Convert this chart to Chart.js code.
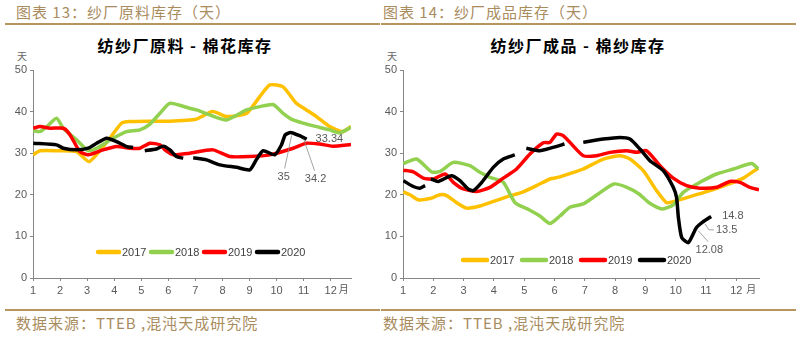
<!DOCTYPE html>
<html>
<head>
<meta charset="utf-8">
<script src="https://cdn.jsdelivr.net/npm/chart.js@4/dist/chart.umd.min.js"></script>
<style>
  html, body { margin: 0; padding: 0; background: #fff; }
  body { position: relative; width: 803px; height: 337px; overflow: hidden;
         font-family: "Noto Sans CJK SC", "Noto Sans", sans-serif; }
  .hd { position: absolute; top: 3px; font-size: 15px; line-height: 18px; color: #A98C5E; letter-spacing: 1px; white-space: nowrap; }
  .rule { position: absolute; height: 2px; background: #B7955F; }
  .ttl { position: absolute; top: 34px; font-size: 16px; line-height: 22px; font-weight: bold; color: #000; text-align: center; white-space: nowrap; letter-spacing: 1.5px; }
  .unit { position: absolute; top: 50px; font-size: 10px; line-height: 12px; color: #666; }
  .src { position: absolute; top: 314px; font-size: 15px; line-height: 18px; color: #A98C5E; letter-spacing: 1px; white-space: nowrap; }
  canvas { position: absolute; top: 60px; }
</style>
</head>
<body>
  <div class="hd" style="left:16px">图表 13：纱厂原料库存（天）</div>
  <div class="hd" style="left:383px">图表 14：纱厂成品库存（天）</div>
  <div class="rule" style="left:5px;width:375px;top:23px"></div>
  <div class="rule" style="left:381px;width:415px;top:23px"></div>

  <div class="ttl" style="left:0;width:370px">纺纱厂原料 - 棉花库存</div>
  <div class="ttl" style="left:370px;width:416px">纺纱厂成品 - 棉纱库存</div>
  <div class="unit" style="left:17px">天</div>
  <div class="unit" style="left:387px">天</div>

  <canvas id="cotton" width="370" height="245" style="left:0"></canvas>
  <canvas id="yarn" width="410" height="245" style="left:370px"></canvas>

  <div class="rule" style="left:5px;width:375px;top:309px"></div>
  <div class="rule" style="left:381px;width:415px;top:309px"></div>
  <div class="src" style="left:16px">数据来源：TTEB ,混沌天成研究院</div>
  <div class="src" style="left:383px">数据来源：TTEB ,混沌天成研究院</div>

<script>
// Series names, colours and month ticks
const years = ['2017', '2018', '2019', '2020'];
const lineColors = ['#FFC000', '#92D050', '#FF0000', '#000000'];
const monthTicks = [1, 2, 3, 4, 5, 6, 7, 8, 9, 10, 11, 12];

// 纺纱厂原料 - 棉花库存 (days), position within the year in months
const cottonMonths2017 = [1.00, 1.26, 1.92, 2.61, 3.08, 3.84, 4.27, 4.58, 5.32, 6.06, 6.79, 7.04, 7.64, 8.15, 8.89, 9.38, 9.75, 10.23, 10.73, 11.10, 11.47, 11.96, 12.44, 12.75];
const cottonDays2017   = [29.6, 30.6, 30.6, 30.4, 28.0, 33.6, 37.2, 37.6, 37.7, 37.7, 38.0, 38.2, 40.0, 38.8, 39.6, 43.6, 46.4, 46.0, 42.0, 40.4, 38.8, 36.4, 35.2, 36.4];

const cottonMonths2018 = [1.01, 1.26, 1.51, 1.87, 2.12, 2.61, 3.04, 3.35, 3.96, 4.46, 4.95, 5.32, 5.69, 6.06, 6.79, 7.04, 7.53, 8.15, 8.89, 9.38, 9.87, 10.24, 10.61, 11.22, 11.96, 12.33, 12.75];
const cottonDays2018   = [35.4, 35.2, 36.4, 38.4, 36.0, 33.2, 30.6, 31.2, 33.6, 35.2, 35.6, 37.0, 39.6, 42.0, 40.8, 40.4, 39.2, 38.0, 40.4, 41.2, 41.7, 39.6, 38.0, 36.8, 35.6, 34.9, 36.2];

const cottonMonths2019 = [1.01, 1.26, 1.63, 2.12, 2.37, 2.73, 3.04, 3.59, 4.09, 4.58, 4.95, 5.32, 5.69, 5.91, 6.18, 6.79, 7.65, 8.27, 9.01, 9.75, 10.61, 11.10, 11.59, 12.08, 12.75];
const cottonDays2019   = [36.0, 36.4, 36.0, 36.0, 34.4, 30.4, 29.6, 30.8, 31.6, 31.2, 31.2, 32.4, 32.0, 30.6, 29.6, 30.0, 30.8, 29.2, 29.2, 29.6, 31.2, 32.4, 32.2, 31.7, 32.1];

const cottonMonths2020 = [1.01, 1.87, 2.12, 2.61, 3.04, 3.35, 3.72, 4.09, 4.46, 4.70, 4.90, 5.13, 5.56, 5.81, 6.06, 6.30, 6.55, 6.72, 6.92, 7.41, 7.90, 8.52, 9.01, 9.25, 9.50, 9.93, 10.18, 10.32, 10.52, 10.85, 11.11];
const cottonDays2020   = [32.4, 32.0, 31.2, 30.8, 31.2, 32.4, 33.6, 32.8, 31.6, 31.4, null, 30.6, 31.0, 31.7, 30.8, 29.2, 28.8, null, 28.9, 28.4, 27.2, 26.6, 26.0, 28.4, 30.6, 29.6, 32.0, 34.4, 35, 34.2, 33.34];

// 纺纱厂成品 - 棉纱库存 (days)
const yarnMonths2017 = [1.01, 1.23, 1.50, 1.89, 2.22, 2.44, 2.77, 3.10, 3.54, 3.98, 4.42, 4.97, 5.41, 5.85, 6.18, 6.51, 6.95, 7.61, 8.16, 8.49, 8.93, 9.37, 9.70, 10.03, 10.58, 11.13, 11.68, 12.23, 12.72];
const yarnDays2017   = [20.7, 20.0, 18.8, 19.1, 20.0, 19.8, 18.1, 16.8, 17.3, 18.4, 19.5, 20.7, 22.2, 23.8, 24.3, 25.1, 26.2, 28.6, 29.4, 28.6, 25.8, 21.0, 18.1, 18.6, 19.8, 21.0, 22.4, 24.0, 26.4];

const yarnMonths2018 = [1.01, 1.45, 1.95, 2.22, 2.66, 3.21, 3.54, 3.87, 4.31, 4.70, 5.19, 5.52, 5.85, 6.18, 6.51, 6.95, 7.44, 7.96, 8.39, 8.79, 9.12, 9.56, 9.92, 10.25, 10.80, 11.35, 11.90, 12.51, 12.73];
const yarnDays2018   = [27.5, 28.6, 25.5, 25.6, 27.8, 27.0, 25.4, 24.2, 23.0, 18.1, 16.3, 14.9, 13.1, 14.9, 17.0, 17.8, 20.2, 22.6, 21.8, 20.2, 18.1, 16.6, 17.6, 20.6, 23.0, 25.0, 26.2, 27.5, 26.2];

const yarnMonths2019 = [1.01, 1.34, 1.67, 2.00, 2.39, 2.66, 2.99, 3.43, 3.87, 4.31, 4.75, 5.19, 5.63, 5.85, 6.07, 6.29, 6.51, 6.95, 7.39, 7.83, 8.38, 8.71, 9.04, 9.48, 9.92, 10.36, 10.80, 11.35, 11.79, 12.12, 12.45, 12.75];
const yarnDays2019   = [25.9, 25.5, 24.0, 23.8, 25.0, 23.0, 21.4, 20.8, 21.8, 24.0, 26.2, 29.8, 32.5, 32.6, 34.6, 34.2, 32.6, 29.4, 29.4, 30.2, 30.6, 30.2, 30.6, 27.0, 24.0, 22.2, 21.6, 21.8, 23.2, 23.0, 21.8, 21.2];

const yarnMonths2020 = [1.01, 1.34, 1.56, 1.73, 1.82, 1.92, 2.16, 2.60, 2.88, 3.15, 3.32, 3.60, 3.98, 4.31, 4.69, 4.88, 5.07, 5.51, 5.95, 6.33, 6.62, 6.95, 7.61, 8.16, 8.49, 8.82, 9.15, 9.59, 9.92, 10.03, 10.09, 10.20, 10.42, 10.68, 10.90, 11.17];
const yarnDays2020   = [23.4, 22.0, 21.6, 22.2, null, 23.8, 23.2, 24.6, 23.4, 21.4, 21.0, 23.0, 26.6, 28.6, 29.6, null, 31.2, 30.6, 31.4, 32.2, null, 32.6, 33.4, 33.8, 33.4, 31.0, 28.2, 25.8, 21.8, 19.3, 14.5, 9.7, 8.5, 12.08, 13.5, 14.8];

Chart.defaults.font.family = "'Liberation Sans', Arial, sans-serif";
Chart.defaults.font.size = 11;
Chart.defaults.color = '#595959';

const AXIS = '#868686';

function toPoints(months, days) {
  return months.map((m, i) => ({ x: m, y: days[i] }));
}

// Legend inside the plot, month suffix and value call-outs on the 2020 line
const overlay = {
  id: 'overlay',
  afterDatasetsDraw(chart, args, o) {
    const ctx = chart.ctx;
    const area = chart.chartArea;
    const xs = chart.scales.x;
    ctx.save();

    // legend
    ctx.font = "11px 'Liberation Sans', Arial, sans-serif";
    ctx.textBaseline = 'middle';
    ctx.textAlign = 'left';
    years.forEach((y, i) => {
      const x0 = area.left + o.legendX + i * o.legendStep;
      const yy = area.top + o.legendY;
      ctx.strokeStyle = lineColors[i];
      ctx.lineWidth = 4.5;
      ctx.lineCap = 'round';
      ctx.beginPath();
      ctx.moveTo(x0, yy);
      ctx.lineTo(x0 + o.legendLen, yy);
      ctx.stroke();
      ctx.fillStyle = '#404040';
      ctx.fillText(y, x0 + o.legendLen + 3, yy + 0.5);
    });

    // 月 after the last month label
    ctx.fillStyle = '#595959';
    ctx.font = "10px 'Noto Sans CJK SC', sans-serif";
    ctx.fillText('月', xs.getPixelForValue(12) + o.monthDx, xs.top + 11);

    // call-outs
    const meta = chart.getDatasetMeta(3);
    const vals = chart.data.datasets[3].data;
    ctx.font = "11px 'Liberation Sans', Arial, sans-serif";
    ctx.lineWidth = 0.8;
    ctx.strokeStyle = '#8c8c8c';
    ctx.lineCap = 'butt';
    o.callouts.forEach(c => {
      const idx = vals.length + c.from;
      const pt = meta.data[idx];
      const px = pt.x, py = pt.y;
      if (c.leader) {
        ctx.beginPath();
        c.leader.forEach((p, k) => {
          if (k === 0) ctx.moveTo(px + p[0], py + p[1]);
          else ctx.lineTo(px + p[0], py + p[1]);
        });
        ctx.stroke();
      }
      ctx.fillStyle = '#595959';
      ctx.textAlign = c.align;
      ctx.fillText(String(vals[idx].y), px + c.dx, py + c.dy);
    });
    ctx.restore();
  }
};

function buildChart(id, monthsList, daysList, padRight, overlayOpts) {
  const datasets = years.map((y, i) => ({
    label: y,
    data: toPoints(monthsList[i], daysList[i]),
    borderColor: lineColors[i],
    backgroundColor: lineColors[i],
    borderWidth: 3.5,
    pointRadius: 0,
    tension: 0.2,
    spanGaps: false,
    borderJoinStyle: 'round',
    borderCapStyle: 'butt',
    order: 3 - i
  }));
  return new Chart(document.getElementById(id), {
    type: 'line',
    data: { datasets },
    options: {
      responsive: false,
      animation: false,
      events: [],
      layout: { padding: { left: 3, right: padRight, top: 10, bottom: 3 } },
      plugins: { legend: { display: false }, tooltip: { enabled: false }, overlay: overlayOpts },
      scales: {
        x: {
          type: 'linear', min: 1, max: 12.75,
          border: { color: AXIS, width: 1 },
          grid: { drawOnChartArea: false, tickLength: 3, color: AXIS },
          ticks: { padding: 3, autoSkip: false, maxRotation: 0, callback: v => String(v) },
          afterBuildTicks: s => { s.ticks = monthTicks.map(v => ({ value: v })); },
          afterFit: s => { s.height = 24; }
        },
        y: {
          min: 0, max: 50,
          border: { color: AXIS, width: 1 },
          grid: { drawOnChartArea: false, tickLength: 3, color: AXIS },
          ticks: { stepSize: 10, padding: 3 },
          afterFit: s => { s.width = 30; }
        }
      }
    },
    plugins: [overlay]
  });
}

buildChart('cotton',
  [cottonMonths2017, cottonMonths2018, cottonMonths2019, cottonMonths2020],
  [cottonDays2017, cottonDays2018, cottonDays2019, cottonDays2020],
  19,
  {
    legendX: 65, legendY: 182, legendStep: 53, legendLen: 21, monthDx: 8,
    callouts: [
      { from: -3, dx: -7, dy: 45, align: 'center', leader: [[1, 3], [-6, 36]] },
      { from: -2, dx: 16, dy: 43, align: 'center', leader: [[4, 3], [15, 35]] },
      { from: -1, dx: 9, dy: 0, align: 'left' }
    ]
  });

buildChart('yarn',
  [yarnMonths2017, yarnMonths2018, yarnMonths2019, yarnMonths2020],
  [yarnDays2017, yarnDays2018, yarnDays2019, yarnDays2020],
  21,
  {
    legendX: 60, legendY: 190, legendStep: 59, legendLen: 24, monthDx: 10,
    callouts: [
      { from: -3, dx: 13, dy: 22, align: 'center', leader: [[2, 3], [12, 14]] },
      { from: -2, dx: 13, dy: 8, align: 'left', leader: [[2, 2], [6, 8], [11, 8]] },
      { from: -1, dx: 11, dy: 0, align: 'left' }
    ]
  });
</script>
</body>
</html>
